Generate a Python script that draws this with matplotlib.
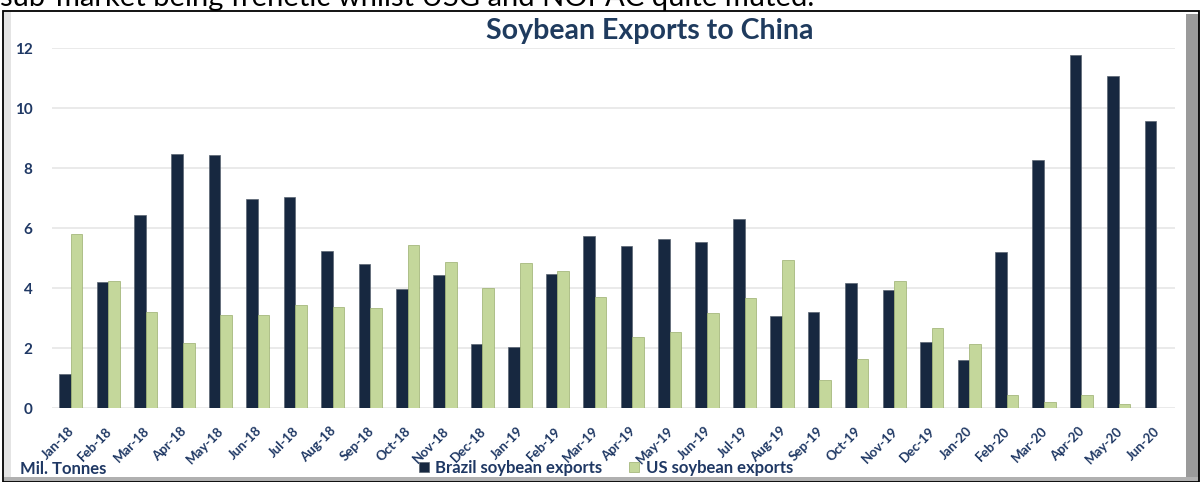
import matplotlib
matplotlib.use('Agg')
import matplotlib.pyplot as plt
import matplotlib.transforms as mtransforms
from matplotlib.patches import Rectangle
import numpy as np

plt.rcParams['font.family'] = ['Lato', 'DejaVu Sans']

months = ['Jan-18', 'Feb-18', 'Mar-18', 'Apr-18', 'May-18', 'Jun-18', 'Jul-18', 'Aug-18',
          'Sep-18', 'Oct-18', 'Nov-18', 'Dec-18', 'Jan-19', 'Feb-19', 'Mar-19', 'Apr-19',
          'May-19', 'Jun-19', 'Jul-19', 'Aug-19', 'Sep-19', 'Oct-19', 'Nov-19', 'Dec-19',
          'Jan-20', 'Feb-20', 'Mar-20', 'Apr-20', 'May-20', 'Jun-20']
brazil = [1.13, 4.2, 6.45, 8.48, 8.42, 6.98, 7.05, 5.22, 4.8, 3.97, 4.42, 2.15, 2.02, 4.48,
          5.75, 5.4, 5.62, 5.52, 6.3, 3.08, 3.2, 4.18, 3.95, 2.2, 1.6, 5.2, 8.28, 11.78,
          11.08, 9.57]
us = [5.8, 4.22, 3.2, 2.18, 3.1, 3.1, 3.42, 3.38, 3.32, 5.45, 4.88, 4.0, 4.82, 4.57, 3.7,
      2.38, 2.55, 3.18, 3.67, 4.92, 0.95, 1.62, 4.23, 2.68, 2.12, 0.45, 0.2, 0.42, 0.15, 0.0]
yticks = [0, 2, 4, 6, 8, 10, 12]

navy = '#172840'
green = '#C4D79B'
txt = '#1F3864'

W, H = 1201, 482
fig = plt.figure(figsize=(W / 100, H / 100), dpi=100)

# text line cut off at the top of the screenshot
fig.text(0.0, 1 - 6 / H, 'sub-market being frenetic whilst USG and NOPAC quite muted.',
         fontsize=21, color='black', ha='left', va='baseline')

# chart frame with shadow
fig.patches.append(Rectangle((1186 / W, 0), 13 / W, 1 - 14 / H, transform=fig.transFigure,
                             facecolor='#9a9a9a', edgecolor='none', zorder=0))
fig.patches.append(Rectangle((4 / W, 0), 1195 / W, 5 / H, transform=fig.transFigure,
                             facecolor='#b0b0b0', edgecolor='none', zorder=0))
fig.patches.append(Rectangle((4 / W, 1 - 11 / H), 7 / W, -(H - 16) / H, transform=fig.transFigure,
                             facecolor='#e4e4e4', edgecolor='none', zorder=0))
fig.patches.append(Rectangle((3 / W, 0), 1196 / W, 1 - 11 / H, transform=fig.transFigure,
                             facecolor='none', edgecolor='black', linewidth=1.3, zorder=1))

ax = fig.add_axes([52 / W, 74 / H, (1175 - 52) / W, (408 - 48) / H])
ax.set_facecolor('none')

x = np.arange(len(months))
bw = 0.31
ax.bar(x - bw / 2, brazil, bw, color=navy, edgecolor='#5a6472', linewidth=0.5,
       label='Brazil soybean exports', zorder=3)
ax.bar(x + bw / 2, us, bw, color=green, edgecolor='#9aae6e', linewidth=0.5,
       label='US soybean exports', zorder=3)

ax.set_xlim(-0.5, len(months) - 0.5)
ax.set_ylim(0, 12)
ax.set_yticks(yticks)
ax.set_yticklabels([str(v) for v in yticks], fontsize=11, fontweight='bold', color=txt)
ax.yaxis.grid(True, color='#e6e6e6', linewidth=1.2, zorder=0)
ax.tick_params(axis='y', length=0, pad=14)
ax.tick_params(axis='x', length=0, pad=12)
for s in ax.spines.values():
    s.set_visible(False)

ax.set_xticks(x)
ax.set_xticklabels(months, rotation=45, ha='right', va='top', rotation_mode='anchor',
                   fontsize=9.5, fontweight='bold', color=txt)
offset = mtransforms.ScaledTranslation(-2 / 72, 0, fig.dpi_scale_trans)
for lab in ax.get_xticklabels():
    lab.set_transform(lab.get_transform() + offset)

fig.text(650 / W, 1 - 31 / H, 'Soybean Exports to China', fontsize=20.5, fontweight='bold',
         color='#1F3B5E', ha='center', va='center')
fig.text(20 / W, 1 - 469 / H, 'Mil. Tonnes', fontsize=12, fontweight='bold', color=txt,
         ha='left', va='center')

leg = ax.legend(loc='center', bbox_to_anchor=(606 / W, 1 - 468 / H),
                bbox_transform=fig.transFigure, ncol=2, frameon=False,
                handlelength=0.6, handleheight=0.6, handletextpad=0.4, columnspacing=1.6,
                prop={'size': 12, 'weight': 'bold'})
for t in leg.get_texts():
    t.set_color(txt)

fig.savefig('out.png', dpi=100)
